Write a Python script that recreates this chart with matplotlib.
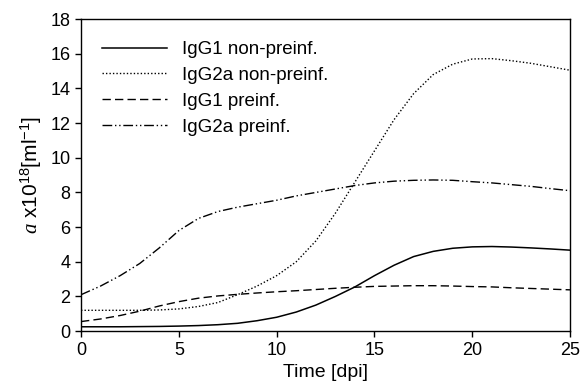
import numpy as np
import matplotlib
matplotlib.use('Agg')
import matplotlib.pyplot as plt

plt.rcParams['font.family'] = ['Liberation Sans', 'DejaVu Sans']
plt.rcParams['mathtext.fontset'] = 'custom'
plt.rcParams['mathtext.it'] = 'Liberation Serif:italic'
plt.rcParams['mathtext.rm'] = 'Liberation Sans'

# 時間點 (dpi)
days = np.arange(0, 26)

igg1_non = [0.25, 0.25, 0.25, 0.26, 0.27, 0.29, 0.32, 0.37, 0.45, 0.6, 0.8,
            1.1, 1.5, 2.0, 2.55, 3.2, 3.8, 4.3, 4.6, 4.78, 4.86, 4.88, 4.85,
            4.8, 4.74, 4.67]
igg2a_non = [1.2, 1.2, 1.2, 1.2, 1.22, 1.28, 1.42, 1.65, 2.1, 2.6, 3.2,
             4.0, 5.2, 6.8, 8.6, 10.4, 12.2, 13.7, 14.8, 15.4, 15.7, 15.72,
             15.6, 15.45, 15.25, 15.05]
igg1_pre = [0.55, 0.7, 0.9, 1.15, 1.45, 1.7, 1.9, 2.03, 2.12, 2.2, 2.27,
            2.33, 2.4, 2.47, 2.53, 2.58, 2.6, 2.62, 2.62, 2.6, 2.57, 2.55,
            2.5, 2.46, 2.42, 2.38]
igg2a_pre = [2.1, 2.6, 3.2, 3.9, 4.8, 5.8, 6.5, 6.9, 7.15, 7.35, 7.55,
             7.8, 8.0, 8.2, 8.4, 8.55, 8.65, 8.7, 8.72, 8.7, 8.62, 8.55,
             8.45, 8.35, 8.22, 8.1]

labels = ['IgG1 non-preinf.', 'IgG2a non-preinf.', 'IgG1 preinf.', 'IgG2a preinf.']

fig = plt.figure(figsize=(5.8, 3.9), dpi=100)
ax = fig.add_axes([0.1397, 0.151, 0.8433, 0.800])

ax.plot(days, igg1_non, color='black', lw=1.1, ls='-', label=labels[0])
ax.plot(days, igg2a_non, color='black', lw=1.0, ls=(0, (1, 1.5)), label=labels[1])
ax.plot(days, igg1_pre, color='black', lw=1.0, ls=(0, (6, 3)), label=labels[2])
ax.plot(days, igg2a_pre, color='black', lw=1.0,
        ls=(0, (7, 2, 1, 2, 1, 2)), label=labels[3])

ax.set_xlim(0, 25)
ax.set_ylim(0, 18)
ax.set_xticks([0, 5, 10, 15, 20, 25])
ax.set_yticks(range(0, 19, 2))
ax.tick_params(direction='out', length=4, labelsize=13, width=1)
for s in ax.spines.values():
    s.set_linewidth(1)

ax.set_xlabel('Time [dpi]', fontsize=14, labelpad=4)
ax.set_ylabel(r'$a$ x10$^{18}$[ml$^{-1}$]', fontsize=15, labelpad=5)

ax.legend(loc='upper left', bbox_to_anchor=(0.043, 0.93), frameon=False,
          fontsize=13.5, handlelength=3.45, handletextpad=0.8, labelspacing=0.47,
          borderpad=0, borderaxespad=0)

fig.savefig('out.png', dpi=100)
